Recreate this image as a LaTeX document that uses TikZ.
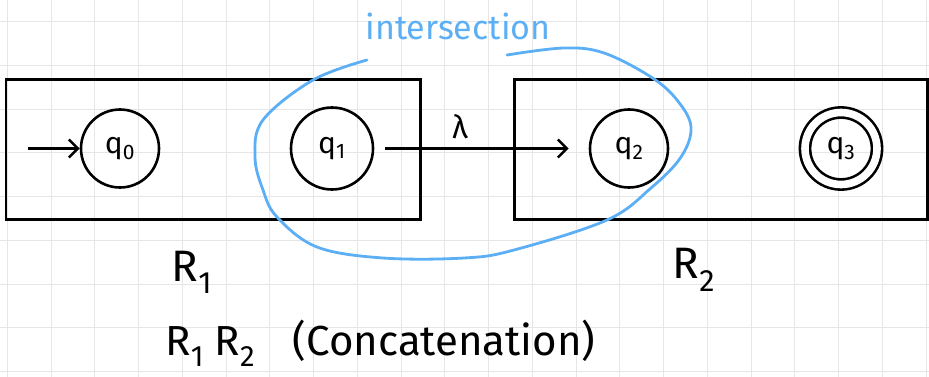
\documentclass[tikz,border=0pt]{standalone}
\usepackage{fontspec}
\setmainfont{Fira Sans}
\usetikzlibrary{arrows.meta,automata,positioning}
\definecolor{penblue}{HTML}{5CAFF5}
\definecolor{gridgray}{HTML}{E6E6E6}
\tikzstyle{st} = [state, draw, line width=2.6pt, minimum size=78pt,
    inner sep=0pt, font=\fontsize{30}{30}\selectfont]
\tikzstyle{region} = [rectangle, draw, line width=2.8pt, minimum height=140pt]
\tikzstyle{gridline} = [gridgray, line width=1pt]

\begin{document}
\begin{tikzpicture}[x=1pt,y=-1pt,>={Straight Barb[length=9pt,width=18pt]},
                    auto,initial text=,initial distance=52pt,
                    every initial by arrow/.style={->,line width=2.6pt}]
  \useasboundingbox (0,0) rectangle (929,377);

  % squared paper
  \foreach \i in {0,...,21}
    \draw[gridline] (7.3+43.75*\i,0) -- ++(0,377);
  \foreach \j in {0,...,8}
    \draw[gridline] (0,21.7+43.75*\j) -- ++(929,0);

  \node[region, minimum width=414.7pt] (r1) at (213.3,149.3) {};
  \node[region, minimum width=412.8pt] (r2) at (721.1,149.3) {};

  \node[initial,st]             (0) at (120,148.5)                  {q\textsubscript{0}};
  \node[st, minimum size=82pt]  (1) [right of=0,node distance=212pt] {q\textsubscript{1}};
  \node[st]                     (2) [right of=1,node distance=297pt] {q\textsubscript{2}};
  \node[st,accepting,minimum size=72pt,double distance=7.6pt]
                                (3) [right of=2,node distance=212pt] {q\textsubscript{3}};

  \path[->,line width=2.6pt]
        (1) edge[shorten <=11pt, shorten >=20pt]
            node[above=5pt,pos=0.4,font=\fontsize{32}{32}\selectfont] {λ} (2);

  \node[font=\fontsize{44}{44}\selectfont] (l1) at (192,272) {R\textsubscript{1}};
  \node[font=\fontsize{44}{44}\selectfont] (l2) at (694,270) {R\textsubscript{2}};
  \node[font=\fontsize{42}{42}\selectfont, anchor=west] (cap) at (162,343)
       {R\textsubscript{1}\hspace{0.25em}R\textsubscript{2}\hspace{0.9em}(Concatenation)};

  % the shared state
  \draw[penblue, line width=2.8pt, line cap=round]
    plot[smooth, tension=0.6] coordinates {(367,60) (313,80) (263,120) (255,157)
      (263,190) (277,217) (317,247) (383,258) (464,258) (514,250) (607,220)
      (651,188) (681,157) (691,127) (677,100) (651,77) (604,53) (564,48) (507,55)};
  \node[penblue, font=\fontsize{34}{34}\selectfont] (hl) at (458,26) {intersection};
\end{tikzpicture}
\end{document}
